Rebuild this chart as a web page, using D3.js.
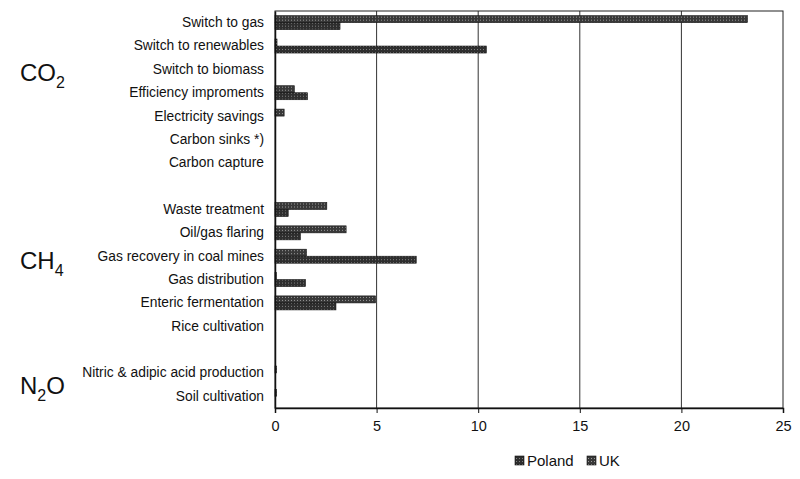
<!DOCTYPE html>
<html>
<head>
<meta charset="utf-8">
<script src="https://cdn.jsdelivr.net/npm/d3@7"></script>
<style>
  body { margin: 0; background: #fff; }
  svg text { font-family: "Liberation Sans", Arial, sans-serif; fill: #111; }
</style>
</head>
<body>
<div id="chart"></div>
<script>
// categories top to bottom; blank strings are gaps between gas groups
const categories = [
  "Switch to gas", "Switch to renewables", "Switch to biomass",
  "Efficiency improments", "Electricity savings", "Carbon sinks *)",
  "Carbon capture", "", "Waste treatment", "Oil/gas flaring",
  "Gas recovery in coal mines", "Gas distribution", "Enteric fermentation",
  "Rice cultivation", " ", "Nitric & adipic acid production", "Soil cultivation"
];
const ukValues = [23.25, 0.1, 0, 0.95, 0.45, 0, 0, 0, 2.55, 3.5, 1.55, 0.07, 4.95, 0, 0, 0.08, 0.08];
const polandValues = [3.2, 10.4, 0, 1.6, 0, 0, 0, 0, 0.65, 1.25, 6.95, 1.5, 3.0, 0, 0, 0, 0];
const xTicks = [0, 5, 10, 15, 20, 25];
const seriesNames = ["Poland", "UK"];
const gasGroups = [
  { base: "CO", sub: "2", tail: "", rows: ["Switch to biomass"], dy: 12 },
  { base: "CH", sub: "4", tail: "", rows: ["Gas recovery in coal mines"], dy: 13 },
  { base: "N", sub: "2", tail: "O", rows: ["Nitric & adipic acid production", "Soil cultivation"], dy: 9 }
];

const width = 800, height = 479;
const margin = { top: 11, right: 17, bottom: 71, left: 275 };
const plotW = width - margin.left - margin.right;
const plotH = height - margin.top - margin.bottom;

const svg = d3.select("#chart").append("svg")
  .attr("width", width).attr("height", height);

// dithered fills, like the scanned bar texture
const defs = svg.append("defs");
function dither(id, base, dot) {
  const p = defs.append("pattern").attr("id", id)
    .attr("patternUnits", "userSpaceOnUse").attr("width", 3).attr("height", 3);
  p.append("rect").attr("width", 3).attr("height", 3).attr("fill", base);
  p.append("rect").attr("x", 1).attr("y", 1).attr("width", 1).attr("height", 1).attr("fill", dot);
}
dither("pat-uk", "#383838", "#999");
dither("pat-pl", "#2e2e2e", "#808080");

const rows = categories.map((c, i) => ({ key: "r" + i, label: c, uk: ukValues[i], pl: polandValues[i] }));

const x = d3.scaleLinear().domain([0, 25]).range([0, plotW]);
const y = d3.scaleBand().domain(rows.map(d => d.key)).range([0, plotH])
  .paddingInner(0.4).paddingOuter(0.2);
const sub = d3.scaleBand().domain(["uk", "pl"]).range([0, y.bandwidth()]);

const g = svg.append("g").attr("transform", `translate(${margin.left},${margin.top})`);

// grid lines
g.selectAll(".grid").data(xTicks.slice(1, -1)).join("line")
  .attr("x1", d => x(d)).attr("x2", d => x(d))
  .attr("y1", 0).attr("y2", plotH)
  .attr("stroke", "#333").attr("stroke-width", 1);

// plot frame
g.append("rect").attr("width", plotW).attr("height", plotH)
  .attr("fill", "none").attr("stroke", "#222").attr("stroke-width", 1);

// bars
const groups = g.selectAll(".row").data(rows).join("g")
  .attr("transform", d => `translate(0,${y(d.key)})`);
groups.filter(d => d.uk > 0).append("rect")
  .attr("y", sub("uk")).attr("height", sub.bandwidth())
  .attr("width", d => x(d.uk))
  .attr("fill", "url(#pat-uk)").attr("stroke", "#111").attr("stroke-width", 0.6);
groups.filter(d => d.pl > 0).append("rect")
  .attr("y", sub("pl")).attr("height", sub.bandwidth())
  .attr("width", d => x(d.pl))
  .attr("fill", "url(#pat-pl)").attr("stroke", "#111").attr("stroke-width", 0.6);

// y axis (category labels)
const yAxis = g.append("g")
  .call(d3.axisLeft(y).tickSize(0).tickPadding(11).tickFormat(k => rows.find(r => r.key === k).label));
yAxis.select(".domain").attr("stroke", "#111").attr("stroke-width", 1.5);
yAxis.selectAll("text").style("font-size", "13.8px").attr("fill", "#111");

// x axis
const xAxis = g.append("g").attr("transform", `translate(0,${plotH})`)
  .call(d3.axisBottom(x).tickValues(xTicks).tickSize(5).tickPadding(8));
xAxis.select(".domain").attr("stroke", "#111").attr("stroke-width", 1.5);
xAxis.selectAll("line").attr("stroke", "#111");
xAxis.selectAll("text").style("font-size", "14.5px").attr("fill", "#111");

// gas group labels
gasGroups.forEach(gg => {
  const centers = gg.rows.map(r => {
    const i = categories.indexOf(r);
    return margin.top + y(rows[i].key) + y.bandwidth() / 2;
  });
  const cy = d3.mean(centers);
  const t = svg.append("text").attr("x", 20).attr("y", cy + gg.dy)
    .style("font-size", "24px");
  t.append("tspan").text(gg.base);
  t.append("tspan").attr("dy", 7).style("font-size", "16px").text(gg.sub);
  if (gg.tail) t.append("tspan").attr("dy", -7).text(gg.tail);
});

// legend
const legend = svg.append("g").attr("transform", "translate(515,466)");
const legendItems = [
  { name: seriesNames[0], fill: "url(#pat-pl)", x: 0 },
  { name: seriesNames[1], fill: "url(#pat-uk)", x: 72 }
];
legendItems.forEach(it => {
  legend.append("rect").attr("x", it.x).attr("y", -10).attr("width", 9).attr("height", 9)
    .attr("fill", it.fill).attr("stroke", "#111").attr("stroke-width", 0.6);
  legend.append("text").attr("x", it.x + 12).attr("y", 0)
    .style("font-size", "15px").text(it.name);
});
</script>
</body>
</html>
